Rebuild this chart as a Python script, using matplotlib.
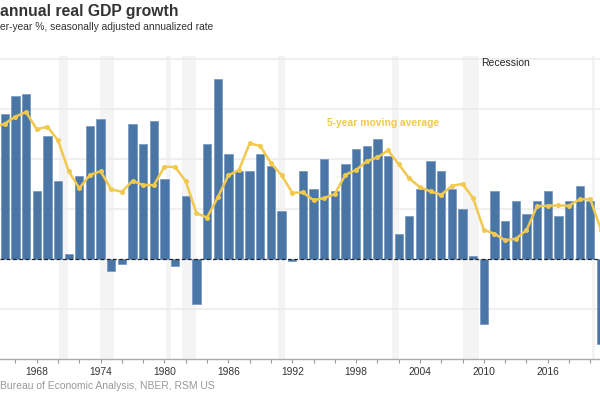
import numpy as np
import matplotlib.pyplot as plt

# annual real GDP growth, %; bar for year Y is drawn at the end of that year
years = list(range(1963, 2021))
gdp = [4.4, 5.8, 6.5, 6.6, 2.7, 4.9, 3.1, 0.2, 3.3, 5.3, 5.6, -0.5, -0.2,
       5.4, 4.6, 5.5, 3.2, -0.3, 2.5, -1.8, 4.6, 7.2, 4.2, 3.5, 3.5, 4.2,
       3.7, 1.9, -0.1, 3.5, 2.8, 4.0, 2.7, 3.8, 4.4, 4.5, 4.8, 4.1, 1.0,
       1.7, 2.8, 3.9, 3.5, 2.8, 2.0, 0.1, -2.6, 2.7, 1.5, 2.3, 1.8, 2.3,
       2.7, 1.7, 2.3, 2.9, 2.3, -3.4]
ma5 = [5.25, 5.4, 5.68, 5.86, 5.17, 5.28, 4.73, 3.5, 2.82, 3.35, 3.5, 2.77,
       2.68, 3.11, 2.95, 2.94, 3.68, 3.67, 3.1, 1.82, 1.65, 2.45, 3.33, 3.55,
       4.61, 4.51, 3.82, 3.34, 2.64, 2.65, 2.34, 2.43, 2.59, 3.36, 3.55, 3.9,
       4.05, 4.33, 3.78, 3.21, 2.86, 2.69, 2.56, 2.92, 2.99, 2.42, 1.16, 1.0,
       0.74, 0.8, 1.14, 2.1, 2.12, 2.13, 2.12, 2.38, 2.38, 1.16]
recessions = [(1970.05, 1970.94), (1973.95, 1975.27), (1980.15, 1980.59),
              (1981.62, 1982.93), (1990.7, 1991.35), (2001.35, 2002.0),
              (2008.07, 2009.55), (2020.2, 2020.4)]

pos = np.array(years) + 1.0

fig = plt.figure(figsize=(6, 3.99), dpi=100)
plt.rcParams['font.family'] = ['Liberation Sans', 'DejaVu Sans']
ax = fig.add_axes([0, 40 / 399, 1, 303 / 399])

for a, b in recessions:
    ax.axvspan(a, b, color='#f4f4f4', zorder=0, lw=0)

for g in [-2, 2, 4, 6, 8]:
    ax.axhline(g, color='#ececec', lw=1.2, zorder=0.5)

ax.bar(pos, gdp, width=0.78, color='#4a76a6', edgecolor='#7195c2',
       linewidth=0.5, zorder=2)
ax.axhline(0, color='#222222', lw=0.9, ls=(0, (3, 2)), zorder=2.5)
ax.plot(pos, ma5, color='#f2c94f', lw=1.8, marker='o', ms=2.6, zorder=3)

ax.text(1995.3, 5.44, '5-year moving average', color='#f2c94f',
        fontsize=7.4, fontweight='bold', va='center', ha='left')
ax.text(2009.73, 7.83, 'Recession', color='#222222', fontsize=7.5,
        va='center', ha='left')

ax.set_xlim(1964.55, 2020.91)
ax.set_ylim(-4, 8.1)
ax.set_yticks([])
ax.set_xticks(np.arange(1966, 2021, 2))
ax.set_xticklabels([str(y) if (y - 1968) % 6 == 0 else '' for y in range(1966, 2021, 2)])
ax.tick_params(axis='x', length=3, color='#999999', labelsize=7.4,
               labelcolor='#333333', pad=2.5)
for s in ['top', 'left', 'right']:
    ax.spines[s].set_visible(False)
ax.spines['bottom'].set_color('#aaaaaa')
ax.spines['bottom'].set_linewidth(1)

fig.text(0, 1 - 16 / 399, 'annual real GDP growth', fontsize=11.3,
         fontweight='bold', color='#333333', va='baseline')
fig.text(0, 1 - 30 / 399, 'er-year %, seasonally adjusted annualized rate',
         fontsize=7.4, color='#333333', va='baseline')
fig.text(0, 10 / 399, 'Bureau of Economic Analysis, NBER, RSM US',
         fontsize=7.5, color='#999999', va='baseline')

fig.savefig('out.png', dpi=100)
